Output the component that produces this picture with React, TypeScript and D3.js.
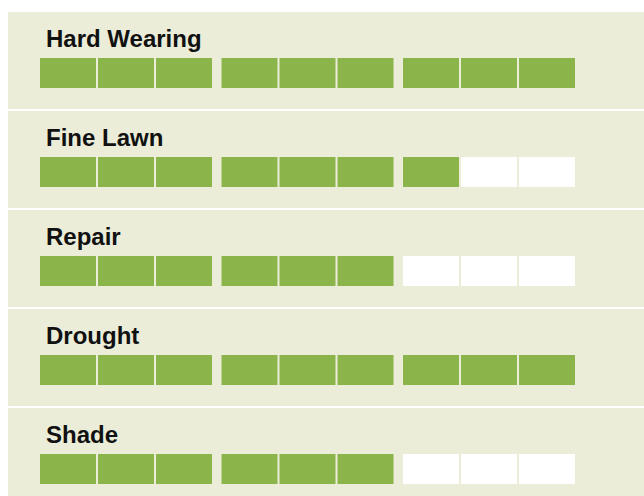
import React from "react";
import * as d3 from "d3";

const categories = ["Hard Wearing", "Fine Lawn", "Repair", "Drought", "Shade"];
const scores = [9, 7, 6, 9, 6];
const maxScore = 9;

const W = 644;
const H = 496;

export default function App() {
  const y = d3
    .scaleBand<string>()
    .domain(categories)
    .range([12, 505])
    .paddingInner(2 / 99)
    .paddingOuter(0);

  const xi = d3.scaleLinear().domain([0, maxScore]).range([40, 40 + maxScore * 58]);
  const cellX = (i: number) => xi(i) + Math.floor(i / 3) * 7.5;
  const cells = d3.range(maxScore);

  return (
    <svg
      width={W}
      height={H}
      style={{ position: "absolute", left: 0, top: 0 }}
    >
      <rect x={0} y={0} width={W} height={H} fill="#ffffff" />
      {categories.map((c, k) => {
        const top = y(c)!;
        return (
          <g key={c}>
            <rect x={8} y={top} width={W - 8} height={y.bandwidth()} fill="#EBEDD9" />
            <text
              x={46}
              y={top + 35}
              fontFamily="'Liberation Sans', Arial, sans-serif"
              fontWeight="bold"
              fontSize={24}
              fill="#111111"
            >
              {c}
            </text>
            {cells.map((i) => (
              <rect
                key={i}
                x={cellX(i)}
                y={top + 46}
                width={56}
                height={30}
                fill={i < scores[k] ? "#8BB44A" : "#ffffff"}
              />
            ))}
          </g>
        );
      })}
    </svg>
  );
}
